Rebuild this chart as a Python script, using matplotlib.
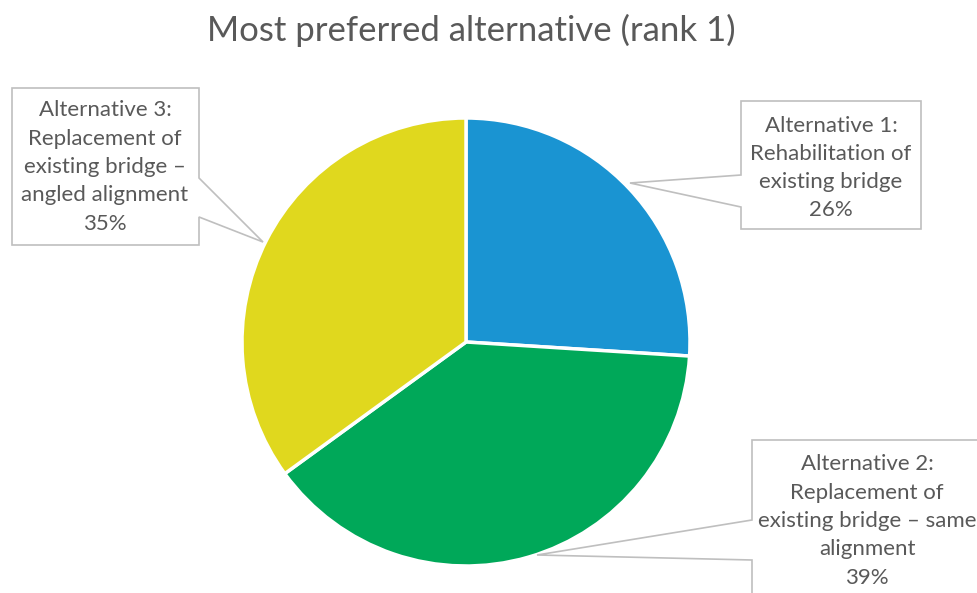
import matplotlib
matplotlib.use("Agg")
import matplotlib.pyplot as plt
from matplotlib.patches import Polygon

plt.rcParams['font.family'] = ['Lato', 'DejaVu Sans']

title = "Most preferred alternative (rank 1)"
labels = [
    "Alternative 1:\nRehabilitation of\nexisting bridge",
    "Alternative 2:\nReplacement of\nexisting bridge \u2013 same\nalignment",
    "Alternative 3:\nReplacement of\nexisting bridge \u2013\nangled alignment",
]
shares = [26, 39, 35]
colors = ["#1A94D2", "#00A859", "#E0D81E"]

W, H = 977, 593
fig = plt.figure(figsize=(W / 100, H / 100), dpi=100)
ax = fig.add_axes([0, 0, 1, 1])

cx, cy, r = 466, H - 342, 224
ax.pie(shares, colors=colors, startangle=90, counterclock=False,
       center=(cx, cy), radius=r, frame=True,
       wedgeprops=dict(edgecolor='white', linewidth=2.5))
ax.set_xlim(0, W)
ax.set_ylim(0, H)
ax.set_aspect('equal')
ax.axis('off')

grey = "#595959"
edge = "#BFBFBF"

# callout boxes in pixel coords (top-left origin)
callouts = [
    dict(box=(741, 101, 921, 229), side='left', w=(175, 207), tip=(630, 183)),
    dict(box=(752, 440, 1000, 620), side='left', w=(520, 560), tip=(537, 555)),
    dict(box=(12, 88, 199, 245), side='right', w=(178, 217), tip=(263, 242)),
]

for c in callouts:
    x0, y0, x1, y1 = c['box']
    wa, wb = c['w']
    tx, ty = c['tip']
    if c['side'] == 'left':
        pts = [(x0, y0), (x1, y0), (x1, y1), (x0, y1), (x0, wb), (tx, ty), (x0, wa)]
    else:
        pts = [(x0, y0), (x1, y0), (x1, wa), (tx, ty), (x1, wb), (x1, y1), (x0, y1)]
    pts = [(px, H - py) for px, py in pts]
    ax.add_patch(Polygon(pts, closed=True, facecolor='white', edgecolor=edge,
                         linewidth=1.2, zorder=5))

text_pos = [(831, 168), (867, 521), (105, 167)]
for lab, pct, (tx, ty) in zip(labels, shares, text_pos):
    ax.text(tx, H - ty, f"{lab}\n{pct}%", ha='center', va='center',
            fontsize=16, color=grey, linespacing=1.52, zorder=6)

fig.text(471 / W, 1 - 30 / H, title, ha='center', va='center',
         fontsize=25, color=grey)

fig.savefig("out.png", dpi=100, facecolor='white')
